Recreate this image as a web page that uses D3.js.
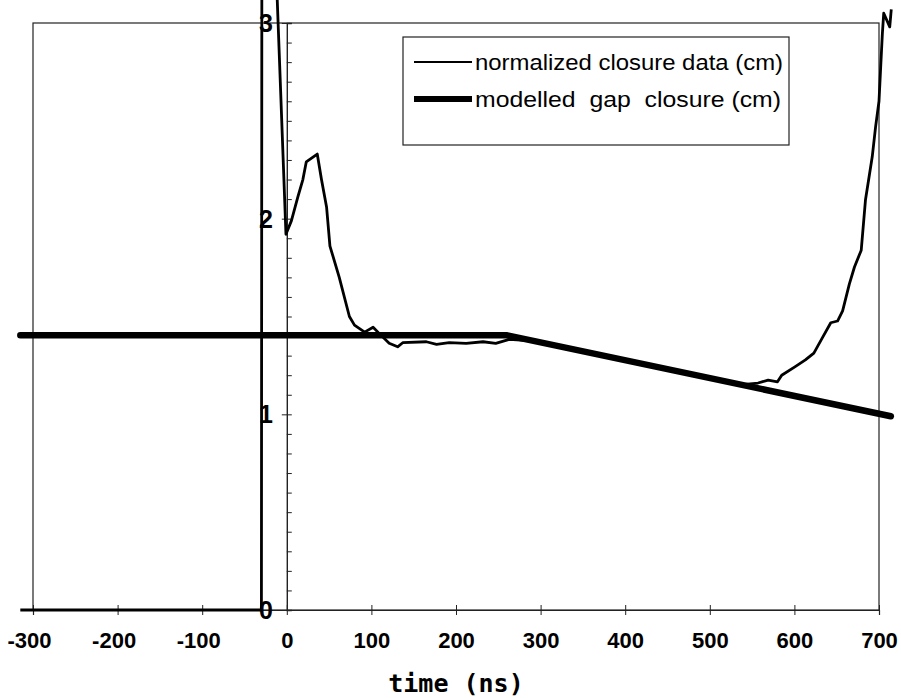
<!DOCTYPE html>
<html>
<head>
<meta charset="utf-8">
<script src="https://cdn.jsdelivr.net/npm/d3@7"></script>
<style>
  body { margin: 0; background: #fff; }
  svg { display: block; }
</style>
</head>
<body>
<div id="chart-area"></div>
<script>
/*
*    gap closure chart
*/

// x ticks (ns) and y ticks (cm)
var xTicks = [-300, -200, -100, 0, 100, 200, 300, 400, 500, 600, 700];
var yLabels = [0, 1, 2, 3];

// normalized closure data (cm)
var closureTime = [-315, -30, -29.5, -12, -1, 5.5, 13, 19, 23, 36, 41, 47, 51, 62, 74, 80, 92, 102, 110,
	121, 131, 137, 165, 177, 192, 212, 232, 247, 263, 290, 320, 350, 380, 410, 440, 470, 500, 520, 538,
	557, 569, 580, 585, 601, 613, 623, 633, 643, 651, 657, 665, 671, 679, 684, 692, 696, 700, 702, 704,
	705.6, 712.7, 714.5];
var closureValue = [0, 0, 3.2, 3.2, 1.92, 1.99, 2.11, 2.2, 2.29, 2.33, 2.2, 2.06, 1.86, 1.7, 1.5, 1.456, 1.42, 1.445, 1.41,
	1.363, 1.345, 1.366, 1.371, 1.358, 1.366, 1.363, 1.371, 1.363, 1.383, 1.375, 1.345, 1.322, 1.29, 1.268, 1.236, 1.212, 1.183, 1.168, 1.152,
	1.16, 1.175, 1.166, 1.2, 1.244, 1.278, 1.313, 1.391, 1.468, 1.477, 1.529, 1.667, 1.753, 1.839, 2.095, 2.316, 2.47, 2.6, 2.776, 2.947,
	3.05, 2.98, 3.07];

// modelled gap closure (cm)
var modelTime = [-315, 260, 714];
var modelValue = [1.404, 1.404, 0.99];

var width = 901;
var height = 698;

var svg = d3.select("#chart-area").append("svg")
	.attr("width", width)
	.attr("height", height);

var x = d3.scaleLinear()
		.domain([-300, 700])
		.range([33, 879]);

var y = d3.scaleLinear()
		.domain([0, 3])
		.range([610, 23]);

var tickFont = "'Liberation Sans', Arial, sans-serif";

// plot frame
svg.append("rect")
	.attr("x", x(-300))
	.attr("y", y(3))
	.attr("width", x(700) - x(-300))
	.attr("height", y(0) - y(3))
	.attr("fill", "none")
	.attr("stroke", "#222")
	.attr("stroke-width", 1.2);

// bottom axis
var bottomAxis = d3.axisBottom(x)
		.tickValues(xTicks)
		.tickSize(5)
		.tickFormat((d) => { return d; });

var xg = svg.append("g")
	.attr("class", "bottom axis")
	.attr("transform", "translate(0, " + y(0) + ")")
	.call(bottomAxis);

xg.select(".domain").attr("stroke", "#222").attr("stroke-width", 1.2);
xg.selectAll("line").attr("y1", -5).attr("stroke", "#222");
xg.selectAll("text")
	.attr("x", (d) => { return d < 0 ? -4 : 0; })
	.attr("y", 30)
	.attr("dy", "0.36em")
	.attr("font-family", tickFont)
	.attr("font-weight", "bold")
	.attr("font-size", "22px")
	.attr("fill", "#000")
	.attr("text-anchor", "middle");

// y axis at t = 0, minor ticks every 0.1
var minorTicks = d3.range(0, 31).map((i) => { return i / 10; });
var leftAxis = d3.axisRight(y)
		.tickValues(minorTicks)
		.tickSize(5)
		.tickFormat("");

var yg = svg.append("g")
	.attr("class", "left axis")
	.attr("transform", "translate(" + x(0) + ", 0)")
	.call(leftAxis);

yg.select(".domain").attr("stroke", "#222").attr("stroke-width", 1.4);
yg.selectAll(".tick line")
	.attr("stroke", "#222")
	.attr("x1", (d) => { return (Math.abs(d - Math.round(d)) < 1e-6) ? -5 : 0; });

// y labels sit just left of the axis
svg.selectAll(".ylabel")
	.data(yLabels)
	.enter()
	.append("text")
		.attr("class", "ylabel")
		.attr("x", 266)
		.attr("y", (d) => { return y(d); })
		.attr("dy", "0.36em")
		.attr("text-anchor", "middle")
		.attr("font-family", tickFont)
		.attr("font-weight", "bold")
		.attr("font-size", "25px")
		.text((d) => { return d; });

// lines
var closure = closureTime.map((t, i) => { return {t: t, v: closureValue[i]}; });
var model = modelTime.map((t, i) => { return {t: t, v: modelValue[i]}; });

var line = d3.line()
		.x((d) => { return x(d.t); })
		.y((d) => { return y(d.v); });

svg.append("path")
	.datum(model)
	.attr("d", line)
	.attr("fill", "none")
	.attr("stroke", "#000")
	.attr("stroke-width", 6.5)
	.attr("stroke-linecap", "round");

svg.append("path")
	.datum(closure)
	.attr("d", line)
	.attr("fill", "none")
	.attr("stroke", "#000")
	.attr("stroke-width", 2.8)
	.attr("stroke-linejoin", "round");

// legend
var legend = svg.append("g").attr("class", "legend");

legend.append("rect")
	.attr("x", 403)
	.attr("y", 37)
	.attr("width", 386)
	.attr("height", 108)
	.attr("fill", "#fff")
	.attr("stroke", "#222")
	.attr("stroke-width", 1.2);

var legendItems = [
	{label: "normalized closure data (cm)", w: 2, y: 62, ty: 70, len: 308},
	{label: "modelled  gap  closure (cm)", w: 6, y: 99, ty: 107, len: 306}
];

legendItems.forEach((d) => {
	legend.append("line")
		.attr("x1", 414)
		.attr("x2", 472)
		.attr("y1", d.y)
		.attr("y2", d.y)
		.attr("stroke", "#000")
		.attr("stroke-width", d.w);
	legend.append("text")
		.attr("x", 475)
		.attr("y", d.ty)
		.attr("font-family", tickFont)
		.attr("font-size", "22px")
		.attr("textLength", d.len)
		.attr("lengthAdjust", "spacingAndGlyphs")
		.attr("xml:space", "preserve")
		.style("white-space", "pre")
		.text(d.label);
});

// x axis label
svg.append("text")
	.attr("class", "x axis-label")
	.attr("x", 456)
	.attr("y", 692)
	.attr("font-family", "'DejaVu Sans Mono', monospace")
	.attr("font-weight", "bold")
	.attr("font-size", "25px")
	.attr("text-anchor", "middle")
	.style("fill", "black")
	.text("time (ns)");
</script>
</body>
</html>
